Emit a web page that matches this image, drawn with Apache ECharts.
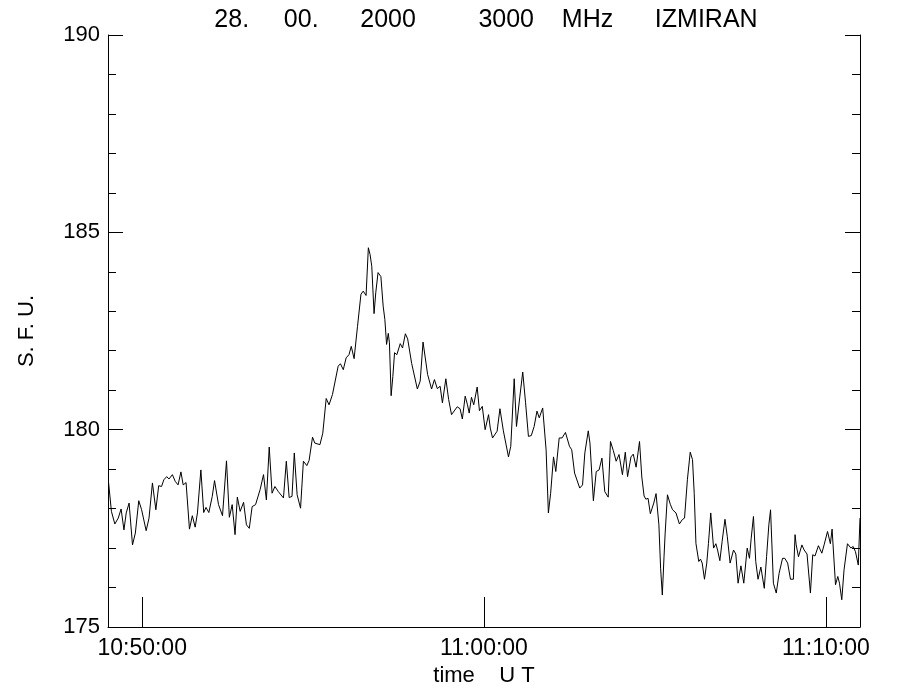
<!DOCTYPE html>
<html>
<head>
<meta charset="utf-8">
<script src="https://cdn.jsdelivr.net/npm/echarts@6/dist/echarts.min.js"></script>
<style>
html,body{margin:0;padding:0;background:#fff;}
#chart{width:900px;height:700px;}
</style>
</head>
<body>
<div id="chart"></div>
<script>
// seconds after 10:49:00 UT
const times = [1,6,12,18,23,28,32,37,43,48,54,59,67,72,78,84,89,94,98,103,107,113,118,123,128,132,137,143,148,153,157,163,168,172,177,183,187,194,201,208,213,
218,223,227,232,238,243,248,253,259,267,273,278,283,288,293,299,308,313,318,323,327,332,338,343,349,353,359,363,372,377,383,388,394,404,408,413,418,423,427,432,
438,444,448,453,457,460,463,467,470,474,479,483,486,489,492,494,497,500,503,507,513,517,522,526,533,543,548,553,561,568,573,578,583,587,593,598,603,613,618,622,627,631,634,638,642,648,652,
657,662,668,671,675,678,683,688,694,703,707,713,717,723,728,733,738,743,748,753,757,763,769,773,777,782,786,792,797,803,810,814,819,828,833,837,843,846,852,857,862,867,
872,878,882,887,892,897,903,908,912,918,922,927,933,937,941,944,948,952,958,962,967,970,973,976,978,982,987,991,997,1003,1008,1012,1017,1022,1026,1029,1032,1037,1040,1043,1047,1051,1054,1058,1063,1067,1070,1074,1078,1083,1087,
1092,1098,1102,1106,1111,1116,1122,1126,1129,1133,1137,1141,1146,1152,1156,1160,1163,1168,1173,1178,1184,1188,1193,1198,1203,1206,1208,1212,1218,1222,1227,1233,1237,1241,1247,1253,1257,1263,1268,1271,1277,1281,1284,1288,1292,1298,1304,1308,1312,1317,1320];
// solar flux, s.f.u.
const flux = [178.66,177.93,177.61,177.76,177.99,177.46,177.89,178.14,177.08,177.38,178.20,177.97,177.44,177.76,178.65,177.97,178.58,178.56,178.73,178.81,178.75,178.86,178.69,178.60,178.93,178.60,178.66,177.48,177.82,177.53,177.89,178.98,177.90,178.03,177.90,178.31,178.71,178.10,177.82,179.21,177.78,
178.10,177.34,178.29,177.93,178.16,177.59,177.50,178.05,178.10,178.48,178.86,178.22,179.56,178.39,178.56,178.43,178.27,179.20,178.28,178.31,179.41,178.35,178.01,179.20,179.09,179.22,179.81,179.66,179.62,179.91,180.79,180.63,180.89,181.61,181.67,181.52,181.82,181.90,182.11,181.80,
182.62,183.43,183.51,183.40,184.61,184.44,184.14,182.94,183.47,183.98,183.88,183.13,182.79,182.16,182.44,182.20,180.86,181.35,181.95,181.90,182.18,182.07,182.43,182.30,181.68,181.03,181.23,182.22,181.40,181.03,181.27,181.04,181.10,180.68,181.29,180.76,180.38,180.58,180.53,180.27,180.85,180.63,180.42,180.82,180.63,181.08,180.48,
180.59,180.00,180.38,180.04,179.79,179.79,179.96,180.53,179.97,179.31,179.58,181.29,180.08,180.85,181.46,180.68,179.83,179.85,180.08,180.47,180.30,180.55,179.49,177.89,178.39,179.31,178.94,179.79,179.79,179.93,179.58,179.49,178.90,178.52,178.60,179.41,179.97,179.66,178.20,178.94,178.98,179.28,
178.43,178.29,179.70,179.47,179.20,179.37,178.86,179.43,178.81,179.31,179.38,179.05,179.70,178.80,178.32,178.24,178.26,177.87,178.14,178.38,177.59,176.49,175.81,176.78,177.38,178.35,178.11,177.97,177.89,177.61,177.72,177.76,178.73,179.43,179.24,178.39,177.12,176.66,176.72,176.62,176.21,176.62,177.12,177.89,177.00,177.11,176.95,176.68,177.17,177.73,177.30,
176.62,176.95,176.85,176.11,176.55,176.11,177.00,176.74,177.25,177.80,176.66,176.21,176.52,175.98,176.78,177.59,177.97,176.11,175.86,176.36,176.74,176.74,176.62,176.21,176.21,177.34,177.08,176.78,177.08,176.95,176.85,175.86,176.83,176.80,177.06,176.87,177.08,177.42,177.11,177.48,176.07,176.28,176.11,175.69,176.45,177.11,177.00,177.04,176.91,176.57,177.76];
const xTickSeconds = [60, 660, 1260];
const xTickLabels = ['10:50:00', '11:00:00', '11:10:00'];
const yTicks = [175, 180, 185, 190];

const chart = echarts.init(document.getElementById('chart'), null, {renderer: 'canvas'});
const fontFam = '"Liberation Sans", "DejaVu Sans", sans-serif';
const yAxisBase = {
  type: 'value', min: 175, max: 190, interval: 5,
  axisLine: {show: true, lineStyle: {color: '#000', width: 1}},
  axisTick: {show: true, inside: true, length: 15, lineStyle: {color: '#000'}},
  minorTick: {show: true, splitNumber: 5, length: 8, lineStyle: {color: '#000'}},
  splitLine: {show: false}
};
chart.setOption({
  animation: false,
  backgroundColor: '#fff',
  title: {
    text: '28.     00.      2000         3000    MHz      IZMIRAN',
    left: 481, top: 3, textAlign: 'center',
    textStyle: {fontFamily: fontFam, fontWeight: 'normal', fontSize: 25, color: '#000'}
  },
  grid: {left: 108, right: 40, top: 35, bottom: 73},
  xAxis: {
    type: 'value', min: 0, max: 1320,
    name: 'time    U T', nameLocation: 'middle', nameGap: 33,
    nameTextStyle: {fontFamily: fontFam, fontSize: 22, color: '#000'},
    axisLine: {show: true, onZero: false, lineStyle: {color: '#000', width: 1}},
    axisTick: {show: true, inside: true, length: 30, customValues: xTickSeconds, lineStyle: {color: '#000'}},
    axisLabel: {
      show: true, margin: 10, customValues: xTickSeconds,
      fontFamily: fontFam, fontSize: 23, color: '#000',
      formatter: v => xTickLabels[xTickSeconds.indexOf(v)]
    },
    splitLine: {show: false}
  },
  yAxis: [
    Object.assign({}, yAxisBase, {
      position: 'left',
      name: 'S. F. U.', nameLocation: 'middle', nameGap: 70, nameRotate: 90,
      nameTextStyle: {fontFamily: fontFam, fontSize: 22, color: '#000'},
      axisLabel: {show: true, margin: 8, fontFamily: fontFam, fontSize: 22, color: '#000',
        formatter: v => (yTicks.indexOf(v) >= 0 ? String(v) : '')}
    }),
    Object.assign({}, yAxisBase, {
      position: 'right',
      axisLabel: {show: false}
    })
  ],
  series: [{
    type: 'line',
    data: times.map((t, i) => [t, flux[i]]),
    showSymbol: false, symbol: 'none',
    lineStyle: {color: '#000', width: 1},
    yAxisIndex: 0
  }]
});
</script>
</body>
</html>
